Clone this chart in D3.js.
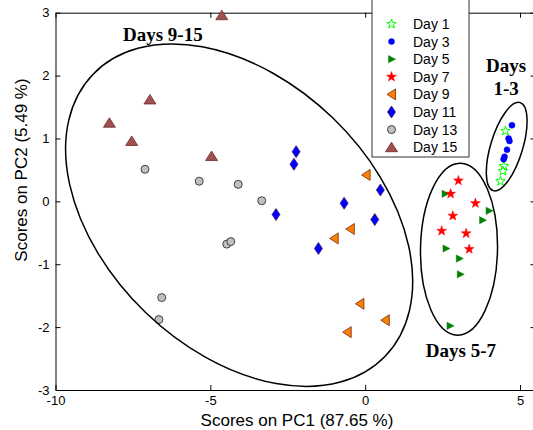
<!DOCTYPE html>
<html>
<head>
<meta charset="utf-8">
<script src="https://cdn.jsdelivr.net/npm/d3@7"></script>
<style>
  body { margin: 0; background: #fff; }
  svg { display: block; }
  .tick text { font-family: "Liberation Sans", Arial, sans-serif; font-size: 13px; fill: #000; }
  .axis path, .axis line { stroke: #000; }
</style>
</head>
<body>
<div id="visual"></div>
<script>
// PCA scores: [PC1, PC2]
const day1  = [[4.53, 1.12], [4.48, 0.56], [4.45, 0.48], [4.37, 0.32]];
const day3  = [[4.74, 1.21], [4.63, 1.00], [4.66, 0.96], [4.58, 0.82], [4.50, 0.71], [4.47, 0.67]];
const day5  = [[2.58, 0.12], [4.00, -0.15], [3.79, -0.30], [2.61, -0.75], [3.04, -0.91], [3.07, -1.16], [2.74, -1.98]];
const day7  = [[3.01, 0.33], [2.76, 0.12], [3.56, -0.03], [2.83, -0.23], [2.47, -0.47], [3.26, -0.51], [3.36, -0.76]];
const day9  = [[0.03, 0.42], [-0.48, -0.44], [-1.00, -0.59], [-0.17, -1.63], [0.65, -1.89], [-0.58, -2.08]];
const day11 = [[-2.23, 0.79], [-2.30, 0.59], [-2.88, -0.21], [-0.68, -0.03], [0.49, 0.18], [0.31, -0.29], [-1.51, -0.75]];
const day13 = [[-7.11, 0.51], [-5.36, 0.32], [-4.10, 0.27], [-3.34, 0.01], [-4.47, -0.68], [-4.34, -0.64], [-6.57, -1.53], [-6.66, -1.88]];
const day15 = [[-4.63, 2.96], [-6.95, 1.62], [-8.26, 1.25], [-7.54, 0.96], [-4.96, 0.72]];

const dayNames = ["Day 1", "Day 3", "Day 5", "Day 7", "Day 9", "Day 11", "Day 13", "Day 15"];
const dayData = [day1, day3, day5, day7, day9, day11, day13, day15];

const xTicks = [-10, -5, 0, 5];
const yTicks = [-3, -2, -1, 0, 1, 2, 3];

// group annotations (centre in data units)
const groups = [
  { label: ["Days 9-15"], cx: -4.07, cy: -0.22, tx: -7.82, ty: 2.55, anchor: "start" },
  { label: ["Days", "1-3"], cx: 4.57, cy: 0.87, tx: 4.55, ty: 2.06, anchor: "middle" },
  { label: ["Days 5-7"], cx: 3.03, cy: -0.76, tx: 3.09, ty: -2.47, anchor: "middle" }
];
const ellipseShape = [
  { rx: 203, ry: 135, rot: 44 },
  { rx: 16, ry: 46, rot: 17 },
  { rx: 38.5, ry: 86, rot: 1 }
];

const W = 533, H = 430;
const svg = d3.select("#visual").append("svg").attr("width", W).attr("height", H);

const x = d3.scaleLinear().domain([-10, 5.5]).range([55.5, 535.5]);
const y = d3.scaleLinear().domain([-3, 3]).range([390, 12.7]);
const fmt = d => String(d);

// axes, MATLAB style with inward ticks
svg.append("g").attr("class", "axis")
  .attr("transform", "translate(0,390)")
  .call(d3.axisBottom(x).tickValues(xTicks).tickSizeInner(-5).tickSizeOuter(0).tickPadding(6).tickFormat(fmt));
svg.append("g").attr("class", "axis")
  .attr("transform", "translate(55.5,0)")
  .call(d3.axisLeft(y).tickValues(yTicks).tickSizeInner(-5).tickSizeOuter(0).tickPadding(6).tickFormat(fmt));
svg.append("g").attr("class", "axis")
  .attr("transform", "translate(0,12.7)")
  .call(d3.axisTop(x).tickValues(xTicks).tickSizeInner(-5).tickSizeOuter(0).tickFormat(""));
svg.append("g").attr("class", "axis")
  .attr("transform", "translate(535.5,0)")
  .call(d3.axisRight(y).tickValues(yTicks).tickSizeInner(-5).tickSizeOuter(0).tickFormat(""));

svg.append("text")
  .attr("x", 297).attr("y", 426)
  .attr("text-anchor", "middle")
  .style("font-family", "'Liberation Sans', Arial, sans-serif")
  .style("font-size", "17px")
  .text("Scores on PC1 (87.65 %)");

svg.append("text")
  .attr("transform", "translate(27,170) rotate(-90)")
  .attr("text-anchor", "middle")
  .style("font-family", "'Liberation Sans', Arial, sans-serif")
  .style("font-size", "17px")
  .text("Scores on PC2 (5.49 %)");

// marker shapes
function star(R) {
  const pts = [];
  for (let i = 0; i < 10; i++) {
    const a = (-90 + i * 36) * Math.PI / 180;
    const r = i % 2 ? R * 0.4 : R;
    pts.push([r * Math.cos(a), r * Math.sin(a)]);
  }
  return "M" + pts.map(p => p[0].toFixed(2) + "," + p[1].toFixed(2)).join("L") + "Z";
}
const circle = r => `M${-r},0A${r},${r} 0 1,0 ${r},0A${r},${r} 0 1,0 ${-r},0Z`;

const markers = {
  "Day 1":  { d: star(5), fill: "#fff", stroke: "#00ff00", sw: 1 },
  "Day 3":  { d: circle(3), fill: "#0000ff", stroke: "#0000ff", sw: 0.5 },
  "Day 5":  { d: "M-3,-3.6L4,0L-3,3.6Z", fill: "#008000", stroke: "#008000", sw: 0.5 },
  "Day 7":  { d: star(5.2), fill: "#ff0000", stroke: "#ff0000", sw: 0.5 },
  "Day 9":  { d: "M-4.5,0L4,-5.5L4,5.5Z", fill: "#ff8000", stroke: "#6e2a10", sw: 0.8 },
  "Day 11": { d: "M0,-6L4,0L0,6L-4,0Z", fill: "#0000ff", stroke: "#4a1f5a", sw: 0.8 },
  "Day 13": { d: circle(4), fill: "#c0c0c0", stroke: "#404040", sw: 1 },
  "Day 15": { d: "M0,-5L6,4.5L-6,4.5Z", fill: "#a0504f", stroke: "#6e2a2a", sw: 0.8 }
};

// points
dayNames.forEach((name, i) => {
  const m = markers[name];
  svg.append("g").selectAll("path")
    .data(dayData[i])
    .enter().append("path")
    .attr("transform", d => `translate(${x(d[0])},${y(d[1])})`)
    .attr("d", m.d)
    .attr("fill", m.fill)
    .attr("stroke", m.stroke)
    .attr("stroke-width", m.sw);
});

// group ellipses + labels
groups.forEach((g, i) => {
  const e = ellipseShape[i];
  svg.append("ellipse")
    .attr("transform", `translate(${x(g.cx)},${y(g.cy)}) rotate(${e.rot})`)
    .attr("rx", e.rx).attr("ry", e.ry)
    .attr("fill", "none")
    .attr("stroke", "#000")
    .attr("stroke-width", 1.5);
  const t = svg.append("text")
    .attr("x", x(g.tx)).attr("y", y(g.ty))
    .attr("text-anchor", g.anchor)
    .style("font-family", "'Liberation Serif', 'Times New Roman', serif")
    .style("font-weight", "bold")
    .style("font-size", "19px");
  g.label.forEach((line, j) => {
    t.append("tspan").attr("x", x(g.tx)).attr("dy", j ? 23.3 : 0).text(line);
  });
});

// legend
const legend = svg.append("g").attr("transform", "translate(372,0)");
legend.append("rect")
  .attr("x", 0).attr("y", -5)
  .attr("width", 97).attr("height", 162)
  .attr("fill", "#fff")
  .attr("stroke", "#333")
  .attr("stroke-width", 1);
const item = legend.selectAll(".item")
  .data(dayNames)
  .enter().append("g")
  .attr("transform", (d, i) => `translate(0,${24 + i * 17.6})`);
item.append("path")
  .attr("transform", "translate(19.5,0)")
  .attr("d", d => markers[d].d)
  .attr("fill", d => markers[d].fill)
  .attr("stroke", d => markers[d].stroke)
  .attr("stroke-width", d => markers[d].sw);
item.append("text")
  .attr("x", 41).attr("dy", "0.36em")
  .style("font-family", "'Liberation Sans', Arial, sans-serif")
  .style("font-size", "14px")
  .text(d => d);
</script>
</body>
</html>
